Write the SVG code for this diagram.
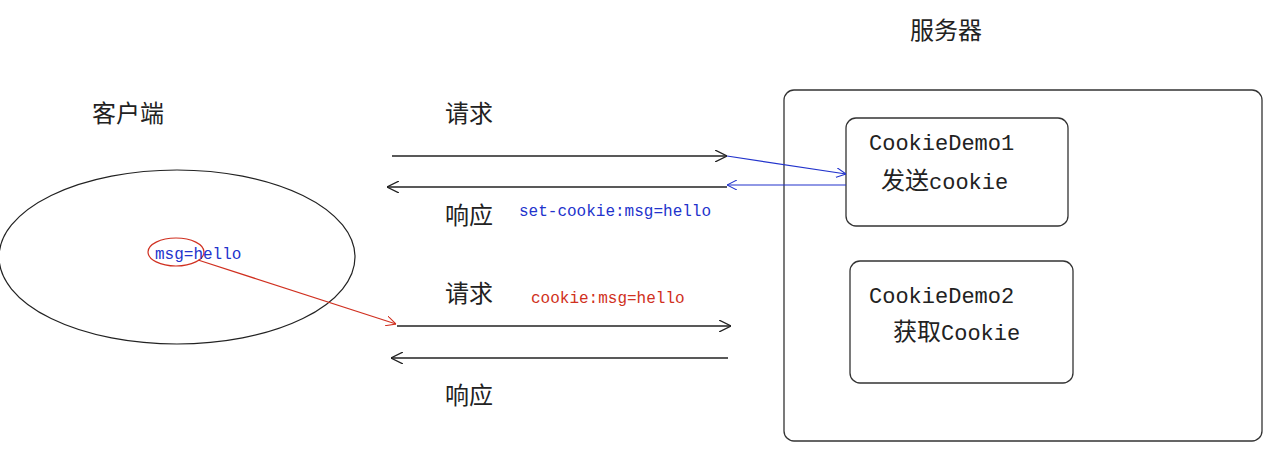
<svg xmlns="http://www.w3.org/2000/svg" width="1275" height="452" viewBox="0 0 1275 452">
<style>
.cn{font-family:"Noto Sans CJK SC","Liberation Serif",serif;font-size:24px;fill:#222}
.mono{font-family:"Liberation Mono","Noto Sans CJK SC",monospace;fill:#222}
.box{fill:none;stroke:#333;stroke-width:1.3}
.blk{stroke:#222;stroke-width:1.3;fill:none}
.blu{stroke:#2233cc;stroke-width:1.2;fill:none}
.red{stroke:#d03020;stroke-width:1.2;fill:none}
</style>
<defs>
<marker id="ah" viewBox="0 0 12 12" refX="12" refY="6" markerWidth="12" markerHeight="12" markerUnits="userSpaceOnUse" orient="auto"><path d="M0,0 L12,6 L0,12" fill="none" stroke="#222" stroke-width="1.3"/></marker>
<marker id="ahb" viewBox="0 0 12 12" refX="12" refY="6" markerWidth="10" markerHeight="10" markerUnits="userSpaceOnUse" orient="auto"><path d="M0,0 L12,6 L0,12" fill="none" stroke="#2233cc" stroke-width="1.3"/></marker>
<marker id="ahr" viewBox="0 0 12 12" refX="12" refY="6" markerWidth="10" markerHeight="10" markerUnits="userSpaceOnUse" orient="auto"><path d="M0,0 L12,6 L0,12" fill="none" stroke="#d03020" stroke-width="1.3"/></marker>
</defs>
<rect width="1275" height="452" fill="#fff"/>
<g id="server">
<rect class="box" x="784" y="90" width="478" height="351" rx="10"/>
<text class="cn" x="910" y="39">服务器</text>
</g>
<g id="cookiedemo1">
<rect class="box" x="846" y="118" width="222" height="108" rx="10"/>
<text class="mono" x="869" y="150" font-size="22">CookieDemo1</text>
<text x="881" y="189"><tspan class="cn">发送</tspan><tspan class="mono" font-size="22">cookie</tspan></text>
</g>
<g id="cookiedemo2">
<rect class="box" x="850" y="261" width="223" height="122" rx="10"/>
<text class="mono" x="869" y="303" font-size="22">CookieDemo2</text>
<text x="893" y="340"><tspan class="cn">获取</tspan><tspan class="mono" font-size="22">Cookie</tspan></text>
</g>
<g id="client">
<text class="cn" x="92" y="122">客户端</text>
<ellipse cx="177" cy="257" rx="178" ry="87" fill="none" stroke="#222" stroke-width="1.2"/>
<ellipse cx="176" cy="252" rx="28" ry="14" fill="none" stroke="#d03020" stroke-width="1.2"/>
<text class="mono" x="155" y="259" font-size="16" style="fill:#2233cc">msg=hello</text>
</g>
<g id="labels">
<text class="cn" x="445" y="122">请求</text>
<text class="cn" x="445" y="224">响应</text>
<text class="mono" x="519" y="216" font-size="16" style="fill:#2233cc">set-cookie:msg=hello</text>
<text class="cn" x="445" y="302">请求</text>
<text class="mono" x="531" y="303" font-size="16" style="fill:#d03020">cookie:msg=hello</text>
<text class="cn" x="445" y="404">响应</text>
</g>
<g id="connectors">
<line class="blk" x1="392" y1="156" x2="727" y2="156" marker-end="url(#ah)"/>
<line class="blu" x1="727" y1="156" x2="846" y2="174" marker-end="url(#ahb)"/>
<line class="blk" x1="727" y1="187" x2="387" y2="187" marker-end="url(#ah)"/>
<line class="blu" x1="846" y1="185" x2="727" y2="185" marker-end="url(#ahb)"/>
<line class="red" x1="198" y1="260" x2="396" y2="324" marker-end="url(#ahr)"/>
<line class="blk" x1="397" y1="326" x2="731" y2="326" marker-end="url(#ah)"/>
<line class="blk" x1="728" y1="358" x2="391" y2="358" marker-end="url(#ah)"/>
</g>
</svg>
